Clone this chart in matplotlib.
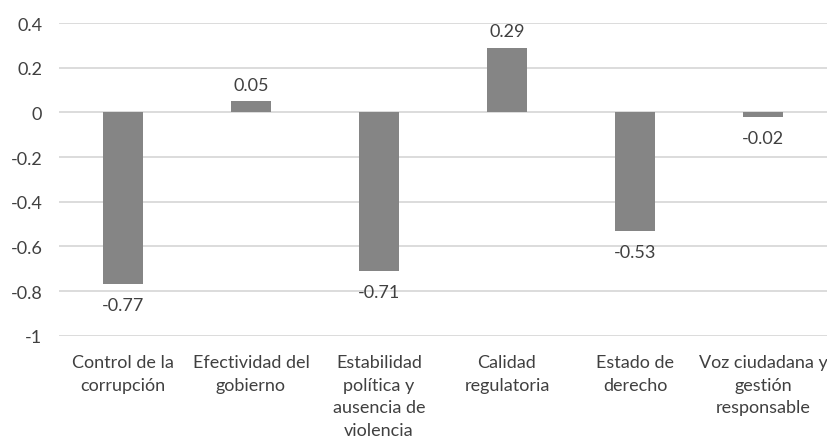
import matplotlib
matplotlib.use("Agg")
import matplotlib.pyplot as plt

categories = [
    "Control de la\ncorrupción",
    "Efectividad del\ngobierno",
    "Estabilidad\npolítica y\nausencia de\nviolencia",
    "Calidad\nregulatoria",
    "Estado de\nderecho",
    "Voz ciudadana y\ngestión\nresponsable",
]
values = [-0.77, 0.05, -0.71, 0.29, -0.53, -0.02]
yticks = [0.4, 0.2, 0, -0.2, -0.4, -0.6, -0.8, -1]
ytick_labels = ["0.4", "0.2", "0", "-0.2", "-0.4", "-0.6", "-0.8", "-1"]

plt.rcParams["font.family"] = ["Lato", "DejaVu Sans"]
text_color = "#404040"
bar_color = "#858585"
grid_color = "#d9d9d9"

fig = plt.figure(figsize=(8.27, 4.39), dpi=100)
ax = fig.add_axes([0.0713, 0.233, 0.9287, 0.712])

x = list(range(len(categories)))
ax.bar(x, values, width=0.31, color=bar_color, zorder=3)

ax.set_xlim(-0.5, len(categories) - 0.5)
ax.set_ylim(-1, 0.4)
ax.set_yticks(yticks)
ax.set_yticklabels(ytick_labels, fontsize=13, color=text_color)
ax.yaxis.grid(True, color=grid_color, linewidth=1.3, zorder=0)
ax.set_axisbelow(True)
ax.tick_params(axis="y", length=0, pad=12)
ax.set_xticks([])
for s in ax.spines.values():
    s.set_visible(False)

for xi, v in zip(x, values):
    off = 12 if v >= 0 else -15
    ax.annotate(f"{v:.2f}", (xi, v), xytext=(0, off), textcoords="offset points",
                ha="center", va="center", fontsize=13, color=text_color, zorder=4)

for xi, lab in zip(x, categories):
    ax.annotate(lab, (xi, -1), xytext=(0, -13), textcoords="offset points",
                ha="center", va="top", fontsize=13, color=text_color,
                linespacing=1.52, annotation_clip=False)

fig.savefig("out.png", dpi=100)
